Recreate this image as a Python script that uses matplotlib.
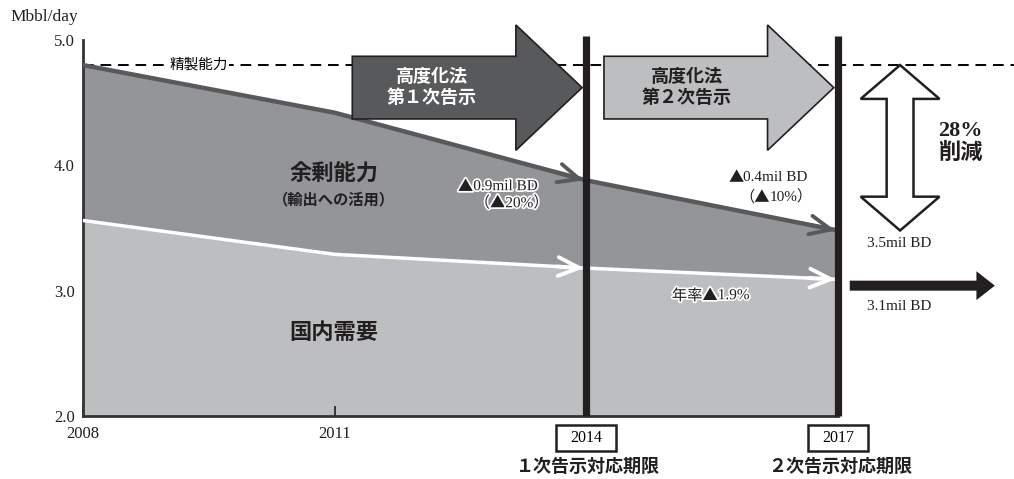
import numpy as np
import matplotlib
matplotlib.use('Agg')
import matplotlib.pyplot as plt
import matplotlib.patheffects as pe
from matplotlib.patches import Polygon, Rectangle

# データ (Mbbl/day)
years = [2008, 2011, 2014, 2017]
capacity = [4.80, 4.42, 3.88, 3.48]
demand = [3.56, 3.29, 3.18, 3.09]
deadlines = [2014, 2017]
deadline_labels = ['１次告示対応期限', '２次告示対応期限']
yticks = [2.0, 3.0, 4.0, 5.0]
xticks = [2008, 2011]

plt.rcParams['font.family'] = ['Liberation Serif', 'Noto Sans CJK JP', 'DejaVu Sans']

DARK = '#231f20'
halo = [pe.withStroke(linewidth=2.5, foreground='white')]

fig = plt.figure(figsize=(10.14, 4.79), dpi=100)
ax = fig.add_axes([83 / 1014, 63 / 479, 755 / 1014, 376 / 479])
ax.set_xlim(2008, 2017)
ax.set_ylim(2, 5)

# 面
ax.fill_between(years, 2, demand, color='#bcbec0', lw=0, zorder=1)
ax.fill_between(years, demand, capacity, color='#939598', lw=0, zorder=1)
ax.plot(years, capacity, color='#58595b', lw=3.2, zorder=3)
ax.plot(years, demand, color='white', lw=2.5, zorder=3)

# 矢じり（各期限点）
def chevron(xs, ys, x_end, color):
    x_start = x_end - 0.35
    ax.annotate('', xy=(x_end - 0.03, np.interp(x_end, xs, ys)),
                xytext=(x_start, np.interp(x_start, xs, ys)),
                arrowprops=dict(arrowstyle='->,head_length=1.0,head_width=0.45',
                                color=color, lw=2.8, mutation_scale=15,
                                shrinkA=0, shrinkB=0), zorder=4)

for d in deadlines:
    chevron(years, capacity, d, '#58595b')
    chevron(years, demand, d, 'white')

# 精製能力（点線）
ax.plot([2008, 2019.2], [capacity[0]] * 2, color='black', lw=1.4,
        dashes=(5.5, 3.5), clip_on=False, zorder=2)
ax.text(2009.38, capacity[0], '精製能力', ha='center', va='center', fontsize=10.5,
        bbox=dict(boxstyle='square,pad=0.1', fc='white', ec='none'), zorder=2)

# 告示矢印
def right_arrow(x0, x1, yc, body, head, head_len, **kw):
    xh = x1 - head_len
    pts = [(x0, yc - body), (xh, yc - body), (xh, yc - head), (x1, yc),
           (xh, yc + head), (xh, yc + body), (x0, yc + body)]
    ax.add_patch(Polygon(pts, closed=True, clip_on=False, **kw))

right_arrow(2011.21, deadlines[0] - 0.05, 4.62, 0.25, 0.5, 0.79,
            fc='#58595b', ec=DARK, lw=1.2, zorder=6)
right_arrow(deadlines[0] + 0.21, deadlines[1] - 0.05, 4.62, 0.25, 0.5, 0.79,
            fc='#bcbec0', ec=DARK, lw=1.2, zorder=6)
ax.text(2012.16, 4.62, '高度化法\n第１次告示', ha='center', va='center',
        fontsize=13, fontweight='bold', color='white', linespacing=1.25, zorder=7)
ax.text(2015.2, 4.62, '高度化法\n第２次告示', ha='center', va='center',
        fontsize=13, fontweight='bold', color=DARK, linespacing=1.25, zorder=7)

# 期限の縦線と枠付き年
for d, lab in zip(deadlines, deadline_labels):
    ax.plot([d, d], [2, 5.03], color=DARK, lw=5.2, clip_on=False, zorder=5,
            solid_capstyle='butt')
    ax.add_patch(Rectangle((d - 0.357, 1.72), 0.715, 0.207, fc='white', ec=DARK,
                           lw=1.8, clip_on=False))
    ax.text(d, 1.823, str(d), ha='center', va='center', fontsize=11.5)
    ax.text(d + 0.02, 1.59, lab, ha='center', va='center', fontsize=13,
            fontweight='bold', color=DARK)

# 28%削減の両矢印
xc, top, bot = 2017.74, capacity[0], capacity[-1]
sw, hw, hl = 0.16, 0.47, 0.27
pts = [(xc, top), (xc + hw, top - hl), (xc + sw, top - hl), (xc + sw, bot + hl),
       (xc + hw, bot + hl), (xc, bot), (xc - hw, bot + hl), (xc - sw, bot + hl),
       (xc - sw, top - hl), (xc - hw, top - hl)]
ax.add_patch(Polygon(pts, closed=True, fc='white', ec=DARK, lw=1.8,
                     clip_on=False, zorder=6))
ax.text(2018.46, 4.18, '28%\n削減', ha='center', va='center', fontsize=16,
        fontweight='bold', color=DARK, linespacing=1.1)

# 2017以降の矢印
right_arrow(2017.14, 2018.87, 3.04, 0.04, 0.115, 0.22, fc=DARK, ec='none', zorder=6)
ax.text(2017.34, 3.38, '3.5mil BD', ha='left', va='center', fontsize=11, color=DARK)
ax.text(2017.34, 2.87, '3.1mil BD', ha='left', va='center', fontsize=11, color=DARK)

# 注記（全角部分は CJK フォント、残りは欧文）
def tri_text(x, y, head, tail, fs=11, effects=None):
    kw = dict(va='center', ha='left', fontsize=fs, color=DARK, zorder=7,
              annotation_clip=False)
    if effects:
        kw['path_effects'] = effects
    ax.annotate(head, (x, y), family=['Noto Sans CJK JP'], **kw)
    ax.annotate(tail, (x, y), xytext=(len(head) * fs, 0),
                textcoords='offset points', **kw)

tri_text(2012.47, 3.83, '▲', '0.9mil BD', effects=halo)
tri_text(2012.67, 3.70, '（▲', '20%）', effects=halo)
tri_text(2015.69, 3.90, '▲', '0.4mil BD')
tri_text(2015.82, 3.75, '（▲', '10%）')
tri_text(2015.02, 2.96, '年率▲', '1.9%', effects=halo)

ax.text(2010.99, 3.92, '余剰能力', ha='center', va='center', fontsize=16,
        fontweight='bold', color=DARK)
ax.text(2010.99, 3.72, '（輸出への活用）', ha='center', va='center', fontsize=11,
        fontweight='bold', color=DARK)
ax.text(2010.99, 2.66, '国内需要', ha='center', va='center', fontsize=16,
        fontweight='bold', color=DARK)

fig.text(10 / 1014, 1 - 17 / 479, 'Mbbl/day', ha='left', va='center', fontsize=12.5,
         color=DARK)

# 軸
for s in ['top', 'right']:
    ax.spines[s].set_visible(False)
for s in ['left', 'bottom']:
    ax.spines[s].set_color('#333333')
    ax.spines[s].set_linewidth(2)
ax.set_yticks(yticks)
ax.set_yticklabels([f'{v:.1f}' for v in yticks])
ax.set_yticks([5.0], minor=True)
ax.tick_params(axis='y', which='major', length=0, pad=6, labelsize=12, colors=DARK)
ax.tick_params(axis='y', which='minor', direction='in', length=7, width=2, color=DARK)
ax.set_xticks(xticks)
ax.set_xticklabels([str(v) for v in xticks])
ax.tick_params(axis='x', direction='in', length=7, width=1.2, pad=7, labelsize=12,
               colors=DARK)

fig.savefig('out.png', dpi=100)
